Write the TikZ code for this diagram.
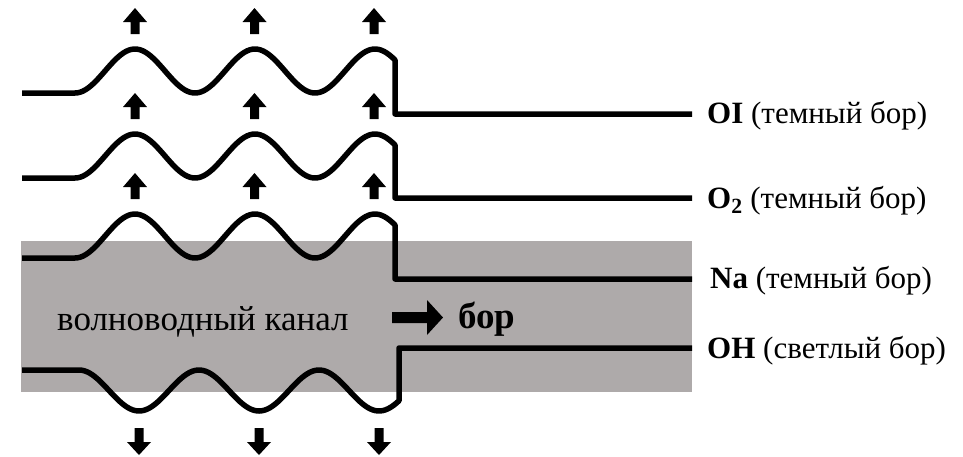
\documentclass[tikz,border=0pt]{standalone}
\usepackage{fontspec}
\setmainfont{Liberation Serif}
\definecolor{chgray}{HTML}{AEAAAA}
\begin{document}
\begin{tikzpicture}[x=1pt,y=-1pt,
  wave/.style={line width=5.5pt,line join=round},
  blk/.style={fill=black,draw=none},
  lab/.style={anchor=base west,inner sep=0pt,font=\fontsize{31}{36}\selectfont},
]
\useasboundingbox (0,0) rectangle (963,456);
% channel
\fill[chgray] (21,241) rectangle (692,392);
% waves
\draw[wave] (22,93) -- (75,93) -- plot[domain=75:395,samples=120] (\x,{71+22*cos(3*(\x-75))}) -- (395,114) -- (692,114);
\draw[wave] (22,178) -- (75,178) -- plot[domain=75:395,samples=120] (\x,{156+22*cos(3*(\x-75))}) -- (395,198) -- (692,198);
\draw[wave] (22,258) -- (75,258) -- plot[domain=75:395,samples=120] (\x,{236+22*cos(3*(\x-75))}) -- (395,279) -- (692,279);
\draw[wave] (22,370) -- (79,370) -- plot[domain=79:399,samples=120] (\x,{390.5-20.5*cos(3*(\x-79))}) -- (399,348) -- (692,348);
% up arrows
\foreach \t in {8,93,173}{
  \foreach \c in {135,254.5,374}{
    \fill[blk] (\c,\t) -- (\c+12,\t+14) -- (\c+4.5,\t+14) -- (\c+4.5,\t+26) -- (\c-4.5,\t+26) -- (\c-4.5,\t+14) -- (\c-12,\t+14) -- cycle;
  }
}
% down arrows
\foreach \c in {139,259,379}{
  \fill[blk] (\c,455) -- (\c+12,442) -- (\c+4.5,442) -- (\c+4.5,428) -- (\c-4.5,428) -- (\c-4.5,442) -- (\c-12,442) -- cycle;
}
% big arrow
\fill[blk] (392,312) -- (427,312) -- (427,300) -- (443,317.5) -- (427,335) -- (427,323) -- (392,323) -- cycle;
% texts
\node[anchor=base west,inner sep=0pt,font=\fontsize{35}{40}\selectfont] (chan) at (57,330) {волноводный канал};
\node[anchor=base west,inner sep=0pt,font=\fontsize{37}{42}\selectfont\bfseries] (bor) at (458,328) {бор};
\node[lab] (oi) at (707,123) {\textbf{OI} (темный бор)};
\node[lab] (o2) at (707,208) {\textbf{O\textsubscript{2}} (темный бор)};
\node[lab] (na) at (710,288) {\textbf{Na} (темный бор)};
\node[lab] (oh) at (707,358) {\textbf{OH} (светлый бор)};
\end{tikzpicture}
\end{document}
